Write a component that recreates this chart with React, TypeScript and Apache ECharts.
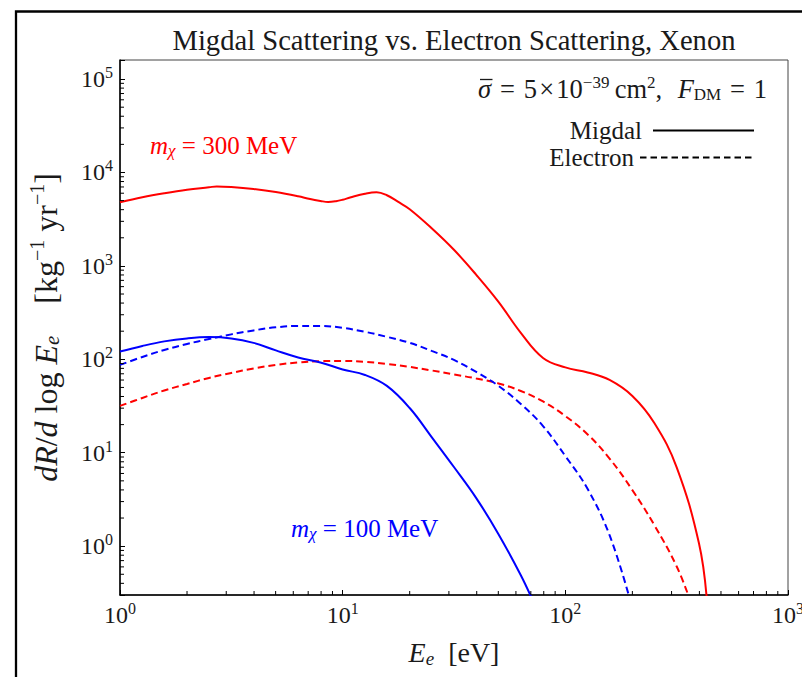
import React, { useEffect, useRef } from "react";
import * as echarts from "echarts";

const FONT = '"Liberation Serif", "Times New Roman", serif';

// ---- data, energies in eV, rates in kg^-1 yr^-1 ----
const migdal300E = [1, 1.26, 1.58, 2, 2.51, 2.72, 3.16, 3.98, 5.01, 6.31, 7.14, 7.94, 8.6, 9.33, 10, 10.8, 12.6, 14.2, 15.8, 17.7, 20, 25.1, 31.6, 39.8, 50.1, 63.1, 79.4, 100, 126, 158, 200, 251, 316, 398, 432];
const migdal300R = [4805, 5437, 6000, 6541, 6941, 7097, 6993, 6657, 6180, 5572, 5200, 4962, 4830, 4925, 5110, 5395, 5927, 6151, 5711, 4864, 4044, 2529, 1488, 803, 412, 192, 103.5, 81.9, 72.4, 60.1, 40.5, 20.8, 7.03, 1.08, 0.27];

const electron300E = [1, 1.26, 1.58, 2, 2.51, 3.16, 3.98, 5.01, 6.31, 7.94, 10, 12.6, 15.8, 20, 25.1, 31.6, 39.8, 50.1, 63.1, 79.4, 100, 126, 158, 200, 251, 316, 362];
const electron300R = [31.7, 38.6, 46.4, 54.5, 63.2, 71.5, 79.9, 87.1, 92.6, 95.6, 96.1, 93.8, 89.3, 82.9, 76.0, 68.9, 62.4, 55.2, 45.8, 35.4, 24.7, 15.7, 8.67, 3.98, 1.68, 0.61, 0.27];

const migdal100E = [1, 1.26, 1.58, 2, 2.51, 3.16, 3.98, 5.01, 6.31, 7.94, 10, 12.6, 15.8, 20, 25.1, 31.6, 39.8, 50.1, 63.1, 71];
const migdal100R = [121, 139, 155.6, 167.5, 173, 167.5, 150, 124.6, 104.8, 92.6, 77.9, 68.0, 51.9, 30.1, 14.7, 7.03, 3.27, 1.345, 0.489, 0.27];

const electron100E = [1, 1.26, 1.58, 2, 2.51, 3.16, 3.98, 5.01, 6.31, 7.94, 10, 12.6, 15.8, 20, 25.1, 31.6, 39.8, 50.1, 63.1, 79.4, 100, 126, 158, 195];
const electron100R = [87.1, 106, 126, 146, 165, 185, 204, 220, 228, 228, 217, 197, 174, 150, 123, 98.5, 73.3, 51.9, 33.3, 19.3, 9.22, 4.08, 1.31, 0.27];

// ---- axes ----
const X_MIN = 1;
const X_MAX = 1000;
const Y_MIN = 0.3;
const Y_MAX = 1.6e5;
const xMajorTicks = [1, 10, 100, 1000];
const yMajorTicks = [1, 10, 100, 1000, 10000, 100000];
const minorMantissas = [2, 3, 4, 5, 6, 7, 8, 9];
const xMinorDecades = [1, 10, 100];
const yMinorDecades = [1, 10, 100, 1000, 10000];
const yMinorBelow = [0.4, 0.5, 0.6, 0.7, 0.8, 0.9];

const xMinorTicks: number[] = [];
xMinorDecades.forEach((d) => minorMantissas.forEach((m) => xMinorTicks.push(m * d)));
const yMinorTicks: number[] = [...yMinorBelow];
yMinorDecades.forEach((d) => minorMantissas.forEach((m) => yMinorTicks.push(m * d)));

const RED = "#ff0000";
const BLUE = "#0000ff";
const INK = "#1a1a1a";

function zip(a: number[], b: number[]) {
  return a.map((v, i) => [v, b[i]]);
}

function powerLabel(majors: number[]) {
  return (v: number) => {
    const hit = majors.find((m) => Math.abs(Math.log10(v) - Math.log10(m)) < 1e-6);
    if (hit === undefined) return "";
    return "{b|10}{s|" + Math.round(Math.log10(hit)) + "}";
  };
}

const tickRich = {
  b: { fontFamily: FONT, fontSize: 24, color: INK },
  s: { fontFamily: FONT, fontSize: 16, color: INK, padding: [0, 0, 13, 0] },
};

export default function App() {
  const ref = useRef<HTMLDivElement>(null);

  useEffect(() => {
    if (!ref.current) return;
    const chart = echarts.init(ref.current, undefined, { renderer: "svg" });

    const lineSeries = (name: string, e: number[], r: number[], color: string, dashed: boolean) => ({
      type: "line",
      name,
      data: zip(e, r),
      symbol: "none",
      showSymbol: false,
      smooth: 0.4,
      clip: true,
      lineStyle: { color, width: 2, type: dashed ? [7, 4] : "solid" },
      itemStyle: { color },
      z: 4,
    });

    const tickSeries = (vals: number[], horizontal: boolean) => ({
      type: "custom",
      coordinateSystem: "cartesian2d",
      silent: true,
      clip: false,
      data: vals.map((v) => (horizontal ? [X_MIN, v] : [v, Y_MIN])),
      renderItem: (_params: any, api: any) => {
        const p = api.coord([api.value(0), api.value(1)]);
        return {
          type: "line",
          shape: horizontal
            ? { x1: p[0], y1: p[1], x2: p[0] + 4, y2: p[1] }
            : { x1: p[0], y1: p[1], x2: p[0], y2: p[1] - 4 },
          style: { stroke: "#000", lineWidth: 1 },
        };
      },
      z: 5,
    });

    const nameRich = {
      i: { fontFamily: FONT, fontSize: 32, fontStyle: "italic", color: INK },
      sub: { fontFamily: FONT, fontSize: 21, fontStyle: "italic", color: INK, padding: [13, 0, 0, 0] },
      r: { fontFamily: FONT, fontSize: 32, color: INK },
      sup: { fontFamily: FONT, fontSize: 20, color: INK, padding: [0, 0, 17, 0] },
    };

    const option: any = {
      animation: false,
      backgroundColor: "#ffffff",
      title: {
        text: "Migdal Scattering vs. Electron Scattering, Xenon",
        left: 454,
        top: 40,
        padding: 0,
        textAlign: "center",
        textVerticalAlign: "middle",
        textStyle: { fontFamily: FONT, fontSize: 28.6, fontWeight: "normal", color: INK },
      },
      grid: {
        left: 120,
        right: 14,
        top: 60,
        bottom: 82,
        containLabel: false,
        outerBoundsMode: "none",
        show: true,
        borderColor: "#444",
        borderWidth: 1,
        backgroundColor: "transparent",
      },
      xAxis: {
        type: "log",
        logBase: 10,
        min: X_MIN,
        max: X_MAX,
        axisLine: { show: true, onZero: false, lineStyle: { color: "#000", width: 1.5 } },
        axisTick: { show: true, inside: true, length: 5, lineStyle: { color: "#000", width: 1 } },
        minorTick: { show: false },
        splitLine: { show: false },
        axisLabel: { formatter: powerLabel(xMajorTicks), margin: 5, rich: tickRich, color: INK },
        name: "{i|E}{sub|e}{r|  [eV]}",
        nameLocation: "middle",
        nameGap: 42,
        nameTextStyle: {
          rich: {
            i: { fontFamily: FONT, fontSize: 28, fontStyle: "italic", color: INK },
            sub: { fontFamily: FONT, fontSize: 19, fontStyle: "italic", color: INK, padding: [12, 0, 0, 0] },
            r: { fontFamily: FONT, fontSize: 28, color: INK },
          },
        },
      },
      yAxis: {
        type: "log",
        logBase: 10,
        min: Y_MIN,
        max: Y_MAX,
        axisLine: { show: true, onZero: false, lineStyle: { color: "#000", width: 1.5 } },
        axisTick: { show: true, inside: true, length: 5, lineStyle: { color: "#000", width: 1 } },
        minorTick: { show: false },
        splitLine: { show: false },
        axisLabel: { formatter: powerLabel(yMajorTicks), margin: 7, rich: tickRich, color: INK },
        name: "{i|dR}{r|/}{i|d}{r| log }{i|E}{sub|e}{r|\u2003[kg}{sup|\u22121}{r| yr}{sup|\u22121}{r|]}",
        nameLocation: "middle",
        nameRotate: 90,
        nameGap: 56,
        nameTextStyle: { rich: nameRich },
      },
      series: [
        lineSeries("Migdal, m\u03c7 = 300 MeV", migdal300E, migdal300R, RED, false),
        lineSeries("Electron, m\u03c7 = 300 MeV", electron300E, electron300R, RED, true),
        lineSeries("Migdal, m\u03c7 = 100 MeV", migdal100E, migdal100R, BLUE, false),
        lineSeries("Electron, m\u03c7 = 100 MeV", electron100E, electron100R, BLUE, true),
        tickSeries(xMinorTicks, false),
        tickSeries(yMinorTicks, true),
      ],
      graphic: [
        {
          type: "rect",
          silent: true,
          shape: { x: 16, y: 11.5, width: 900, height: 900 },
          style: { fill: "none", stroke: "#000", lineWidth: 2.3 },
          z: 100,
        },
        {
          type: "text",
          x: 478,
          y: 89,
          style: {
            text: "{i|\u03c3}{r|\u2004=\u20045\u200a\u00d7\u200a10}{sup|\u221239}{r|\u2009cm}{sup|2}{r|,\u2002\u200a}{i|F}{sub|DM}{r|\u2004=\u20041}",
            align: "left",
            verticalAlign: "middle",
            rich: {
              i: { fontFamily: FONT, fontSize: 26.5, fontStyle: "italic", fill: INK },
              r: { fontFamily: FONT, fontSize: 26.5, fill: INK },
              sup: { fontFamily: FONT, fontSize: 17, fill: INK, padding: [0, 0, 14, 0] },
              sub: { fontFamily: FONT, fontSize: 17, fill: INK, padding: [11, 0, 0, 0] },
            },
          },
        },
        {
          type: "line",
          shape: { x1: 480, y1: 79.5, x2: 492.5, y2: 79.5 },
          style: { stroke: INK, lineWidth: 1.3 },
        },
        {
          type: "text",
          x: 642,
          y: 130,
          style: { text: "Migdal", align: "right", verticalAlign: "middle", fontFamily: FONT, fontSize: 25, fill: INK },
        },
        {
          type: "line",
          shape: { x1: 653, y1: 130.5, x2: 754, y2: 130.5 },
          style: { stroke: "#000", lineWidth: 2 },
        },
        {
          type: "text",
          x: 634,
          y: 157,
          style: { text: "Electron", align: "right", verticalAlign: "middle", fontFamily: FONT, fontSize: 25, fill: INK },
        },
        {
          type: "line",
          shape: { x1: 640, y1: 157.5, x2: 754, y2: 157.5 },
          style: { stroke: "#000", lineWidth: 2, lineDash: [6.5, 4] },
        },
        {
          type: "text",
          x: 150,
          y: 145,
          style: {
            text: "{i|m}{sub|\u03c7}{r| = 300 MeV}",
            align: "left",
            verticalAlign: "middle",
            rich: {
              i: { fontFamily: FONT, fontSize: 25, fontStyle: "italic", fill: RED },
              sub: { fontFamily: FONT, fontSize: 17, fontStyle: "italic", fill: RED, padding: [11, 0, 0, 0] },
              r: { fontFamily: FONT, fontSize: 25, fill: RED },
            },
          },
        },
        {
          type: "text",
          x: 291,
          y: 528,
          style: {
            text: "{i|m}{sub|\u03c7}{r| = 100 MeV}",
            align: "left",
            verticalAlign: "middle",
            rich: {
              i: { fontFamily: FONT, fontSize: 25, fontStyle: "italic", fill: BLUE },
              sub: { fontFamily: FONT, fontSize: 17, fontStyle: "italic", fill: BLUE, padding: [11, 0, 0, 0] },
              r: { fontFamily: FONT, fontSize: 25, fill: BLUE },
            },
          },
        },
      ],
    };

    chart.setOption(option);
    return () => chart.dispose();
  }, []);

  return (
    <div
      ref={ref}
      style={{ position: "fixed", left: 0, top: 0, width: 802, height: 677, background: "#fff" }}
    />
  );
}
